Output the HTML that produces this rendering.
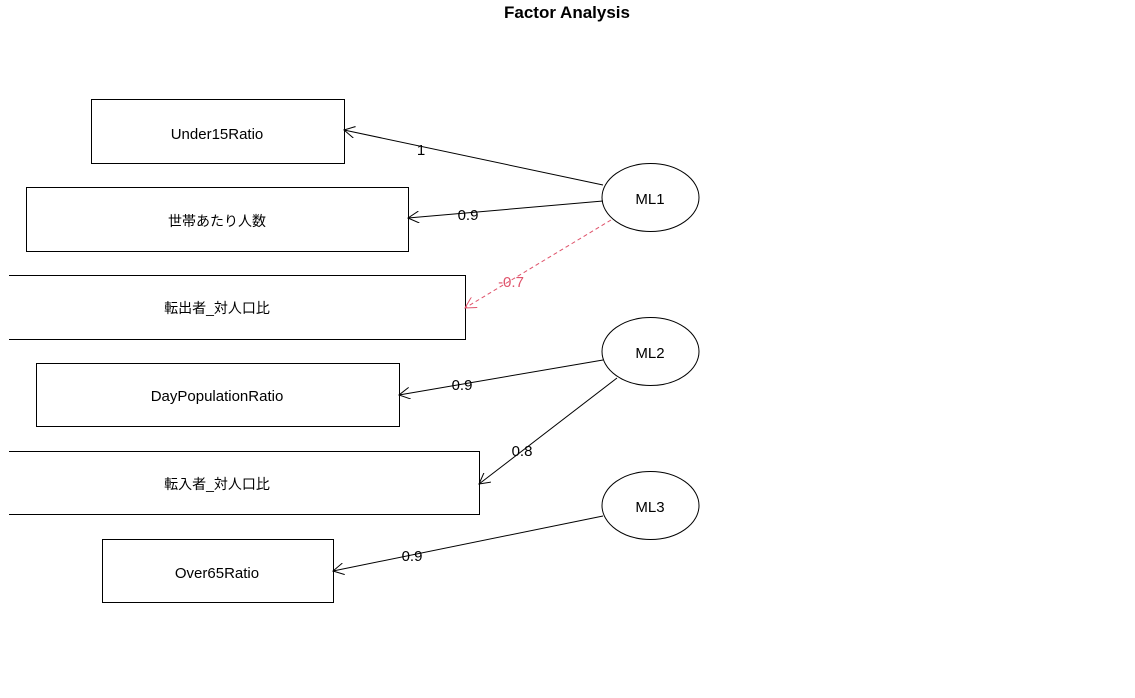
<!DOCTYPE html>
<html><head><meta charset="utf-8"><style>
body{margin:0;background:#fff;width:1135px;height:693px;overflow:hidden}
text{font-family:"Liberation Sans","Noto Sans CJK JP",sans-serif}
</style></head><body>
<svg width="1135" height="693" viewBox="0 0 1135 693" xmlns="http://www.w3.org/2000/svg">
<defs>
<marker id="a" viewBox="0 0 12 12" refX="11" refY="6" markerWidth="12" markerHeight="12" markerUnits="userSpaceOnUse" orient="auto"><path d="M0,0 L11,6 L0,12" fill="none" stroke="#000" stroke-width="1"/></marker>
<marker id="r" viewBox="0 0 12 12" refX="11" refY="6" markerWidth="12" markerHeight="12" markerUnits="userSpaceOnUse" orient="auto"><path d="M0,0 L11,6 L0,12" fill="none" stroke="#DF536B" stroke-width="1"/></marker>
</defs>
<text x="567" y="18" font-size="17" font-weight="bold" text-anchor="middle">Factor Analysis</text>
<g fill="none" stroke="#000" stroke-width="1">
<rect x="91.5" y="99.5" width="253" height="64"/>
<rect x="26.5" y="187.5" width="382" height="64"/>
<path d="M9,275.5H465.5V339.5H9"/>
<rect x="36.5" y="363.5" width="363" height="63"/>
<path d="M9,451.5H479.5V514.5H9"/>
<rect x="102.5" y="539.5" width="231" height="63"/>
<ellipse cx="650.5" cy="197.5" rx="48.5" ry="34"/>
<ellipse cx="650.5" cy="351.5" rx="48.5" ry="34"/>
<ellipse cx="650.5" cy="505.5" rx="48.5" ry="34"/>
<line x1="603" y1="185" x2="344" y2="130" marker-end="url(#a)"/>
<line x1="603" y1="201" x2="408" y2="218" marker-end="url(#a)"/>
<line x1="603" y1="360" x2="399" y2="395" marker-end="url(#a)"/>
<line x1="617" y1="378" x2="479" y2="484" marker-end="url(#a)"/>
<line x1="603" y1="516" x2="333" y2="571" marker-end="url(#a)"/>
<line x1="611" y1="220" x2="465" y2="308" stroke="#DF536B" stroke-dasharray="4,3" marker-end="url(#r)"/>
</g>
<g font-size="15" text-anchor="middle">
<text x="217" y="139">Under15Ratio</text>
<text x="217" y="226" font-size="14">世帯あたり人数</text>
<text x="217" y="313" font-size="14">転出者_対人口比</text>
<text x="217" y="401">DayPopulationRatio</text>
<text x="217" y="489" font-size="14">転入者_対人口比</text>
<text x="217" y="578">Over65Ratio</text>
<text x="650" y="204">ML1</text>
<text x="650" y="358">ML2</text>
<text x="650" y="512">ML3</text>
<text x="421" y="155">1</text>
<text x="468" y="220">0.9</text>
<text x="511" y="287" fill="#DF536B">-0.7</text>
<text x="462" y="390">0.9</text>
<text x="522" y="456">0.8</text>
<text x="412" y="561">0.9</text>
</g>
</svg>
</body></html>
